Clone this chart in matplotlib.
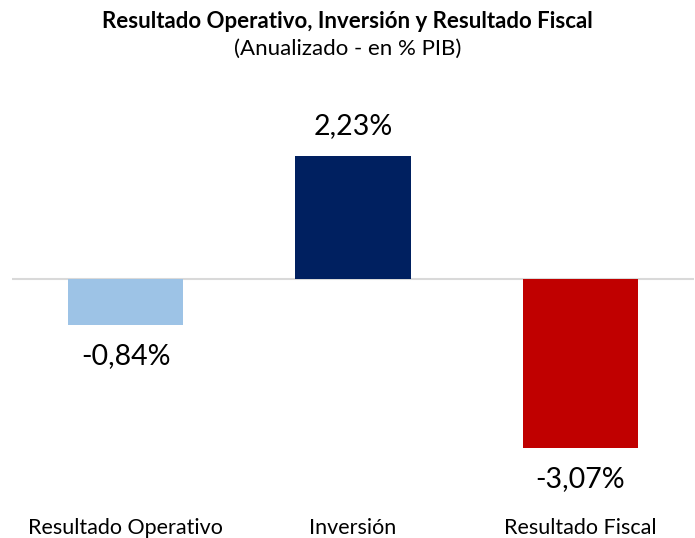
import matplotlib
matplotlib.use("Agg")
import matplotlib.pyplot as plt
from matplotlib.transforms import blended_transform_factory

categories = ["Resultado Operativo", "Inversión", "Resultado Fiscal"]
values = [-0.84, 2.23, -3.07]
value_labels = ["-0,84%", "2,23%", "-3,07%"]
colors = ["#9DC3E6", "#002060", "#C00000"]

plt.rcParams['font.family'] = ['Lato', 'DejaVu Sans']

W, H = 695, 538
fig = plt.figure(figsize=(W/100, H/100), dpi=100)
ax_left, ax_right = 12, 694
ax_top, ax_bottom = 100, 500
ax = fig.add_axes([ax_left/W, 1 - ax_bottom/H, (ax_right-ax_left)/W, (ax_bottom-ax_top)/H])
ppu = 55.2
zero_y = 279
ax.set_ylim(-(ax_bottom - zero_y)/ppu, (zero_y - ax_top)/ppu)
ax.set_xlim(-0.5, 2.5)

x = list(range(len(categories)))
ax.bar(x, values, width=0.506, color=colors, zorder=2)
ax.axhline(0, color="#D9D9D9", linewidth=1.5, zorder=1)

for xi, v, lab in zip(x, values, value_labels):
    if v >= 0:
        ax.annotate(lab, (xi, v), xytext=(0, 12), textcoords="offset points",
                    ha="center", va="bottom", fontsize=20.5)
    else:
        ax.annotate(lab, (xi, v), xytext=(0, -13), textcoords="offset points",
                    ha="center", va="top", fontsize=20.5)

for s in ax.spines.values():
    s.set_visible(False)
ax.set_xticks([])
ax.set_yticks([])

tr = blended_transform_factory(ax.transData, fig.transFigure)
for xi, c in zip(x, categories):
    ax.text(xi, 1 - 528/H, c, transform=tr, ha="center", va="center", fontsize=15.5)

fig.text(0.5, 1 - 21/H, "Resultado Operativo, Inversión y Resultado Fiscal",
         ha="center", va="center", fontsize=16, fontweight="bold")
fig.text(0.5, 1 - 49/H, "(Anualizado - en % PIB)", ha="center", va="center", fontsize=16)

fig.savefig("out.png", dpi=100)
